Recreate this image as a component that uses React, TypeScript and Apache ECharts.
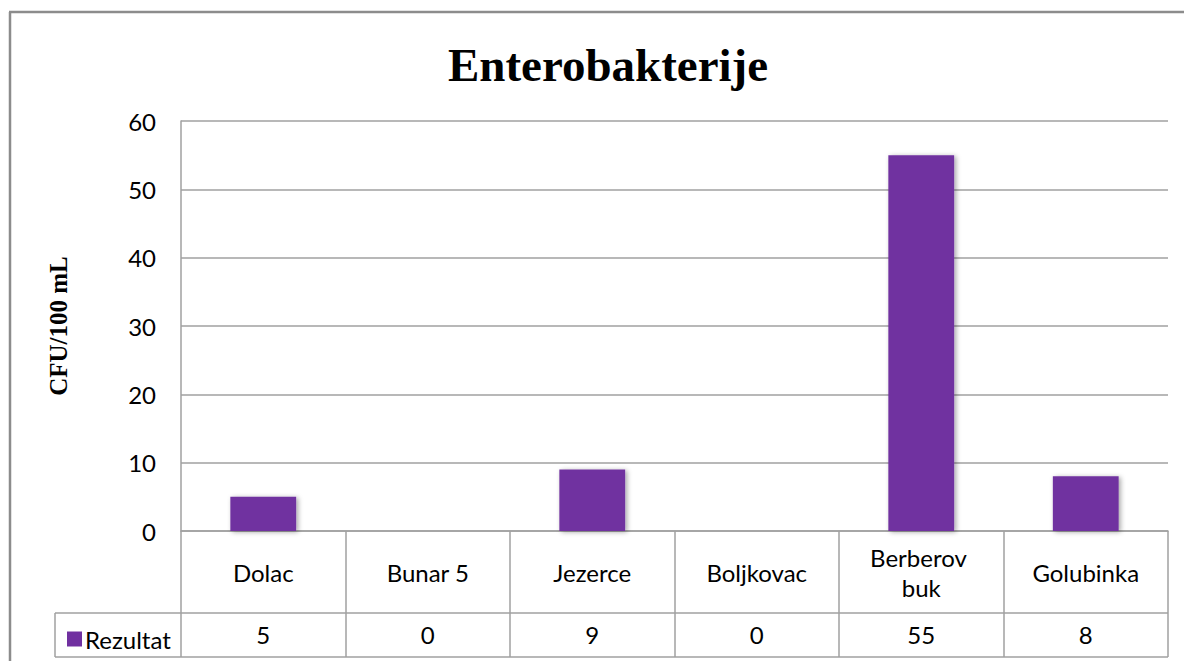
import React, { useEffect, useRef } from "react";
import * as echarts from "echarts";

const categories = ["Dolac", "Bunar 5", "Jezerce", "Boljkovac", "Berberov buk", "Golubinka"];
const rezultat = [5, 0, 9, 0, 55, 8];
const seriesName = "Rezultat";
const titleText = "Enterobakterije";
const yAxisTitle = "CFU/100 mL";

const SANS = "Lato, 'Open Sans', sans-serif";
const SERIF = "'Liberation Serif', 'DejaVu Serif', serif";
const GRID = "#a0a0a0";

export default function App() {
  const ref = useRef<HTMLDivElement>(null);
  useEffect(() => {
    if (!ref.current) return;
    const chart = echarts.init(ref.current, null, { renderer: "svg" });
    chart.setOption({
      animation: false,
      backgroundColor: "#ffffff",
      title: {
        text: titleText,
        left: 603,
        top: 36,
        textAlign: "center",
        textStyle: { fontFamily: SERIF, fontWeight: "bold", fontSize: 47, color: "#000" },
      },
      legend: {
        data: [seriesName],
        left: 62,
        top: 622,
        icon: "rect",
        itemWidth: 15,
        itemHeight: 15,
        itemGap: 6,
        textStyle: { fontFamily: SANS, fontSize: 24, color: "#000", padding: [0, 0, 0, -2] },
      },
      grid: { left: 181, top: 121, right: 16, bottom: 130 },
      xAxis: [
        {
          type: "category",
          data: categories,
          boundaryGap: true,
          axisLine: { show: true, lineStyle: { color: GRID, width: 1.5 } },
          axisTick: { show: true, length: 126, lineStyle: { color: GRID, width: 1.5 } },
          axisLabel: {
            interval: 0,
            margin: 41,
            verticalAlign: "middle",
            lineHeight: 30,
            width: 120,
            overflow: "break",
            fontFamily: SANS,
            fontSize: 24,
            color: "#000",
          },
        },
        {
          type: "category",
          data: rezultat.map(String),
          position: "bottom",
          boundaryGap: true,
          axisLine: { show: false },
          axisTick: { show: false },
          axisLabel: {
            interval: 0,
            margin: 103,
            verticalAlign: "middle",
            fontFamily: SANS,
            fontSize: 24,
            color: "#000",
          },
        },
      ],
      yAxis: {
        type: "value",
        min: 0,
        max: 60,
        interval: 10,
        name: yAxisTitle,
        nameLocation: "middle",
        nameRotate: 90,
        nameGap: 110,
        nameTextStyle: { fontFamily: SERIF, fontWeight: "bold", fontSize: 25, color: "#000" },
        axisLine: { show: true, lineStyle: { color: GRID, width: 1.5 } },
        axisTick: { show: false },
        axisLabel: { margin: 25, fontFamily: SANS, fontSize: 24, color: "#000" },
        splitLine: { show: true, lineStyle: { color: GRID, width: 1.5 } },
      },
      series: [
        {
          name: seriesName,
          type: "bar",
          data: rezultat,
          barWidth: "40%",
          itemStyle: {
            color: "#7030A0",
            shadowBlur: 5,
            shadowColor: "rgba(0,0,0,0.35)",
            shadowOffsetX: 2,
            shadowOffsetY: 1,
          },
        },
      ],
      graphic: [
        { type: "line", shape: { x1: 9, y1: 12, x2: 1184, y2: 12 }, style: { stroke: "#8c8c8c", lineWidth: 2.5 } },
        { type: "line", shape: { x1: 10, y1: 12, x2: 10, y2: 661 }, style: { stroke: "#8c8c8c", lineWidth: 2.5 } },
        { type: "line", shape: { x1: 55, y1: 613, x2: 1168, y2: 613 }, style: { stroke: GRID, lineWidth: 1.5 } },
        { type: "line", shape: { x1: 55, y1: 657, x2: 1168, y2: 657 }, style: { stroke: GRID, lineWidth: 1.5 } },
        { type: "line", shape: { x1: 55, y1: 613, x2: 55, y2: 657 }, style: { stroke: GRID, lineWidth: 1.5 } },
      ],
    });
    return () => chart.dispose();
  }, []);
  return (
    <div
      ref={ref}
      style={{ position: "fixed", left: 0, top: 0, width: 1184, height: 661, background: "#fff" }}
    />
  );
}
